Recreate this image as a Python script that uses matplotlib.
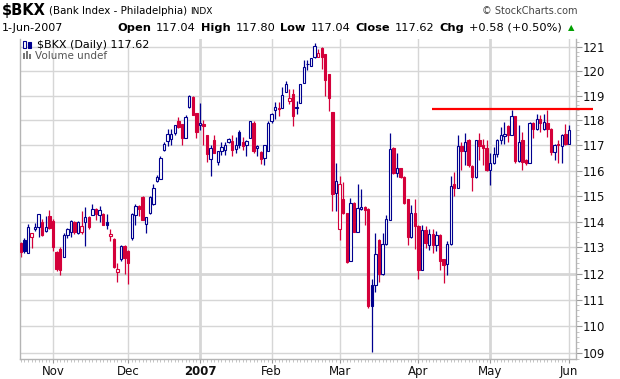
import numpy as np
import pandas as pd
import matplotlib
matplotlib.use("Agg")
import matplotlib.pyplot as plt
from matplotlib.ticker import FixedLocator, FixedFormatter, NullFormatter
from matplotlib.patches import Rectangle

# ---------------- data ----------------
start_date = "2006-10-19"
end_date = "2007-06-01"
holidays = ["2006-11-23", "2006-12-25", "2007-01-01", "2007-01-02",
            "2007-01-15", "2007-02-19", "2007-04-06", "2007-05-28"]

opens = [113.17, 113.30, 112.80, 113.39, 113.70, 113.80, 113.97, 113.65, 114.23, 114.04,
         112.81, 112.94, 112.62, 113.49, 113.61, 114.00, 113.56, 113.58, 113.97, 114.17,
         114.24, 114.50, 114.27, 114.30, 113.97, 113.43, 113.33, 112.07, 112.54, 113.06,
         112.85, 113.35, 114.24, 114.59, 114.97, 113.90, 114.33, 114.70, 115.60, 115.67,
         116.83, 117.18, 117.25, 117.49, 117.99, 117.85, 117.29, 118.54, 118.96, 118.30,
         117.80, 117.85, 117.42, 116.45, 117.22, 116.33, 116.77, 116.80, 117.15, 117.18,
         116.85, 117.55, 117.12, 117.00, 117.30, 117.90, 116.88, 116.74, 116.50, 116.77,
         117.97, 118.41, 118.48, 118.49, 119.16, 118.77, 119.07, 118.50, 118.70, 119.51,
         120.27, 120.20, 120.59, 120.57, 120.93, 120.71, 119.89, 118.32, 115.13, 113.70,
         114.87, 114.33, 112.47, 114.73, 113.61, 114.49, 114.57, 114.50, 111.56, 111.56,
         113.30, 111.97, 113.12, 114.07, 116.90, 115.90, 116.10, 115.74, 114.87, 113.40,
         114.33, 113.84, 112.15, 113.67, 113.10, 113.51, 113.10, 113.49, 112.54, 112.35,
         113.13, 115.46, 115.33, 116.96, 116.78, 117.22, 116.18, 115.75, 117.20, 117.00,
         116.88, 116.03, 116.29, 116.65, 117.20, 117.36, 117.77, 117.42, 118.16, 116.39,
         117.20, 116.40, 116.30, 117.90, 117.67, 118.07, 117.67, 117.90, 117.67, 116.73,
         117.04, 116.96, 117.45, 117.04]
highs = [113.20, 113.35, 113.90, 113.56, 113.95, 114.30, 114.10, 114.23, 114.45, 114.10,
         112.85, 113.00, 113.55, 113.75, 114.06, 114.02, 114.04, 114.43, 114.57, 114.20,
         114.70, 114.52, 114.62, 114.32, 114.30, 113.70, 113.35, 112.40, 113.10, 113.10,
         112.90, 114.35, 114.67, 114.66, 115.00, 114.17, 115.00, 115.46, 115.84, 116.58,
         117.13, 117.65, 117.65, 117.82, 118.13, 117.86, 118.20, 119.04, 119.00, 118.30,
         118.72, 118.03, 117.43, 117.03, 117.40, 116.77, 117.15, 117.15, 117.30, 117.40,
         117.35, 117.60, 117.35, 117.22, 117.97, 117.97, 117.02, 116.77, 117.03, 117.97,
         118.31, 118.73, 118.73, 119.33, 119.60, 119.27, 119.27, 118.79, 119.49, 120.47,
         120.47, 120.52, 121.16, 120.89, 120.97, 120.71, 119.89, 118.32, 116.30, 115.80,
         115.53, 114.35, 114.93, 114.75, 115.47, 115.27, 114.60, 114.52, 111.80, 113.55,
         113.32, 113.55, 114.25, 117.50, 116.92, 116.68, 116.12, 115.80, 114.90, 114.63,
         114.87, 113.86, 113.87, 113.84, 113.72, 113.72, 113.64, 113.53, 112.56, 113.23,
         115.80, 115.93, 117.40, 117.13, 117.50, 117.25, 116.20, 117.22, 117.50, 117.25,
         117.22, 116.68, 116.94, 117.26, 117.74, 117.93, 117.80, 118.40, 118.17, 117.83,
         117.52, 116.45, 117.93, 117.95, 118.27, 118.20, 118.27, 118.40, 117.70, 117.07,
         117.20, 117.47, 117.85, 117.80]
lows = [112.62, 112.80, 112.80, 112.97, 113.65, 113.39, 113.45, 113.58, 113.70, 112.88,
        112.10, 111.94, 112.62, 113.36, 113.40, 113.50, 113.52, 113.52, 113.04, 113.72,
        114.24, 114.05, 114.00, 113.85, 113.70, 113.26, 112.20, 111.68, 112.48, 112.00,
        111.60, 113.30, 113.87, 114.20, 114.05, 113.56, 114.29, 114.66, 115.53, 115.67,
        116.77, 116.99, 117.00, 117.43, 117.70, 117.00, 117.29, 118.50, 118.20, 117.30,
        117.60, 117.00, 116.33, 115.80, 116.70, 116.20, 116.60, 116.60, 117.10, 116.57,
        116.70, 116.90, 116.83, 116.57, 117.30, 116.70, 116.57, 116.26, 116.22, 116.77,
        117.90, 118.04, 118.18, 118.49, 119.13, 118.68, 117.77, 118.24, 118.70, 119.51,
        120.03, 120.20, 120.55, 120.57, 120.10, 119.00, 118.37, 114.40, 114.40, 113.27,
        114.30, 112.40, 112.47, 113.58, 113.58, 114.45, 113.87, 110.70, 109.06, 111.30,
        111.66, 111.95, 113.10, 114.05, 115.85, 115.74, 115.70, 114.70, 113.10, 113.38,
        112.93, 111.78, 112.12, 112.98, 112.90, 112.77, 112.87, 112.12, 111.65, 111.95,
        113.10, 115.00, 115.30, 116.03, 116.20, 116.15, 115.20, 115.72, 116.43, 116.23,
        116.00, 115.42, 116.25, 116.55, 117.07, 117.07, 117.15, 117.40, 116.30, 116.33,
        116.03, 116.20, 116.28, 117.30, 117.60, 117.53, 117.60, 117.33, 116.60, 116.40,
        116.30, 116.30, 117.00, 117.04]
closes = [112.81, 112.85, 113.78, 113.56, 113.80, 114.30, 113.48, 113.78, 113.75, 113.00,
          112.16, 112.12, 113.49, 113.72, 114.04, 113.58, 113.97, 113.82, 114.17, 113.78,
          114.50, 114.30, 114.46, 113.87, 113.88, 113.52, 112.25, 112.16, 113.06, 112.60,
          112.42, 114.30, 114.60, 114.48, 114.07, 114.17, 114.97, 115.33, 115.73, 116.49,
          117.05, 117.44, 117.45, 117.80, 117.72, 117.29, 118.13, 119.00, 118.20, 117.52,
          117.90, 117.76, 116.67, 116.90, 116.71, 116.77, 116.93, 117.03, 117.26, 116.80,
          117.00, 117.03, 116.99, 117.16, 117.97, 116.77, 116.99, 116.45, 117.03, 117.90,
          118.24, 118.55, 118.45, 119.04, 119.49, 118.89, 118.18, 118.52, 119.49, 120.16,
          120.30, 120.52, 121.03, 120.75, 120.57, 119.63, 118.90, 115.09, 115.60, 115.45,
          114.33, 112.44, 114.71, 113.61, 114.51, 114.57, 114.47, 110.75, 110.78, 112.73,
          111.97, 113.12, 114.09, 116.86, 115.90, 116.10, 115.74, 114.74, 113.40, 114.33,
          113.84, 112.15, 113.67, 113.16, 113.51, 113.10, 113.48, 112.47, 112.31, 113.13,
          115.38, 115.33, 116.96, 116.78, 117.13, 116.22, 115.75, 117.20, 116.96, 116.88,
          116.03, 116.29, 116.65, 117.20, 117.40, 117.45, 117.42, 118.16, 116.39, 117.13,
          116.35, 116.30, 117.90, 117.67, 118.07, 117.90, 117.92, 117.67, 116.73, 117.03,
          117.00, 117.40, 117.04, 117.62]

month_labels = ["Nov", "Dec", "2007", "Feb", "Mar", "Apr", "May", "Jun"]
y_ticks = list(range(109, 122))
y_range = (108.785, 121.318)
resistance_level = 118.45
resistance_span = (114.8, 159.7)   # in trading-day units

# ---------------- setup ----------------
W, H = 620, 379
fig = plt.figure(figsize=(W / 100, H / 100), dpi=100)
fig.patch.set_facecolor("white")

L, R, T, B = 20, 576, 39, 359
ax = fig.add_axes([L / W, 1 - B / H, (R - L) / W, (B - T) / H])

BLUE = "#00008f"
RED = "#d4003a"
GRID = "#d6d6d6"

dates = pd.bdate_range(start_date, end_date)
dates = dates[~dates.isin(pd.to_datetime(holidays))]
n = len(dates)
x = np.arange(n)
O = np.array(opens); Hh = np.array(highs); Ll = np.array(lows); C = np.array(closes)
prev = np.r_[O[0], C[:-1]]
cols = np.where(C >= prev, BLUE, RED)
hollow = C > O

month_start = [i for i in range(1, n) if dates[i].month != dates[i - 1].month]

ax.set_yscale("log")
ax.set_ylim(*y_range)
ax.set_xlim(-0.21, (R - 20.75) / 3.583)

# grid
for t in y_ticks:
    ax.axhline(t, color=GRID, lw=2.0 if t == 112 else 1.0, zorder=0)
for i, lab in zip(month_start, month_labels):
    ax.axvline(i, color=GRID, lw=2.0 if lab in ("2007", "May") else 1.0, zorder=0)

# candles
ax.vlines(x, Ll, Hh, colors=cols, lw=0.9, zorder=2)
lo = np.minimum(O, C)
hi = np.maximum(O, C)
hgt = np.maximum(hi - lo, 0.01)
faces = np.where(hollow, "white", cols)
ax.bar(x, hgt, bottom=lo, width=0.66, color=faces, edgecolor=cols,
       linewidth=0.8, zorder=3)

# resistance line
ax.plot(resistance_span, [resistance_level] * 2, color="#ff0000", lw=1.6,
        zorder=5, clip_on=False, solid_capstyle="butt")

# axes styling
for s in ("left", "bottom", "right"):
    ax.spines[s].set_color("#b4b4b4")
    ax.spines[s].set_linewidth(1.0)
ax.spines["top"].set_visible(False)

ax.yaxis.tick_right()
ax.yaxis.set_major_locator(FixedLocator(y_ticks))
ax.yaxis.set_major_formatter(FixedFormatter([str(t) for t in y_ticks]))
minor_y = [v for v in np.arange(108.8, 121.4, 0.2) if abs(v - round(v)) > 0.05]
ax.yaxis.set_minor_locator(FixedLocator(minor_y))
ax.yaxis.set_minor_formatter(NullFormatter())
ax.tick_params(axis="y", which="major", length=4, color="#999999", labelsize=8.5,
               pad=1, labelcolor="#111111")
ax.tick_params(axis="y", which="minor", length=2, color="#bbbbbb")

ax.set_xticks(month_start)
ax.set_xticklabels(month_labels)
ax.set_xticks(x, minor=True)
ax.tick_params(axis="x", which="major", length=3, color="#999999", labelsize=8.5,
               pad=1.5, labelcolor="#111111")
ax.tick_params(axis="x", which="minor", length=2, color="#bbbbbb")
for tl in ax.get_xticklabels():
    if tl.get_text() == "2007":
        tl.set_fontweight("bold")

# ---------------- header text ----------------
renderer = fig.canvas.get_renderer()

def put(xp, yp, s, size, weight="normal", color="black", ha="left"):
    t = fig.text(xp / W, 1 - yp / H, s, fontsize=size, fontweight=weight,
                 color=color, ha=ha, va="center")
    return t

def seq(xp, yp, parts, gap=3):
    for s, size, weight, color in parts:
        t = put(xp, yp, s, size, weight, color)
        bb = t.get_window_extent(renderer)
        xp = bb.x1 + gap
    return xp

seq(2, 11, [("$BKX", 10.5, "bold", "black"),
            ("(Bank Index - Philadelphia)", 7.4, "normal", "black"),
            ("INDX", 6.5, "normal", "black")], gap=3)
put(577, 11, "\u00a9 StockCharts.com", 7, color="#444444", ha="right")

put(2, 28, "1-Jun-2007", 8)
end = seq(117, 28, [("Open", 8.2, "bold", "black"), ("117.04", 8.2, "normal", "black"),
                    ("High", 8.2, "bold", "black"), ("117.80", 8.2, "normal", "black"),
                    ("Low", 8.2, "bold", "black"), ("117.04", 8.2, "normal", "black"),
                    ("Close", 8.2, "bold", "black"), ("117.62", 8.2, "normal", "black"),
                    ("Chg", 8.2, "bold", "black"), ("+0.58 (+0.50%)", 8.2, "normal", "black")],
          gap=5)
put(end + 1, 28, "\u25b2", 6, color="#00a000")

# legend inside plot
put(37, 45, "$BKX (Daily) 117.62", 8)
put(35, 56, "Volume undef", 7.5, color="#555555")

def prect(x0, y0, w, h, **kw):
    fig.patches.append(Rectangle((x0 / W, 1 - (y0 + h) / H), w / W, h / H,
                                 transform=fig.transFigure, **kw))
prect(23, 41, 3, 7, facecolor="white", edgecolor=BLUE, lw=0.8)
prect(28, 42, 3, 6, facecolor=BLUE, edgecolor=BLUE, lw=0.8)
prect(23, 53, 2, 6, facecolor="#777777", edgecolor="none")
prect(26, 51, 2, 8, facecolor="#777777", edgecolor="none")
prect(29, 54, 2, 5, facecolor="#777777", edgecolor="none")

fig.savefig("out.png", dpi=100)
